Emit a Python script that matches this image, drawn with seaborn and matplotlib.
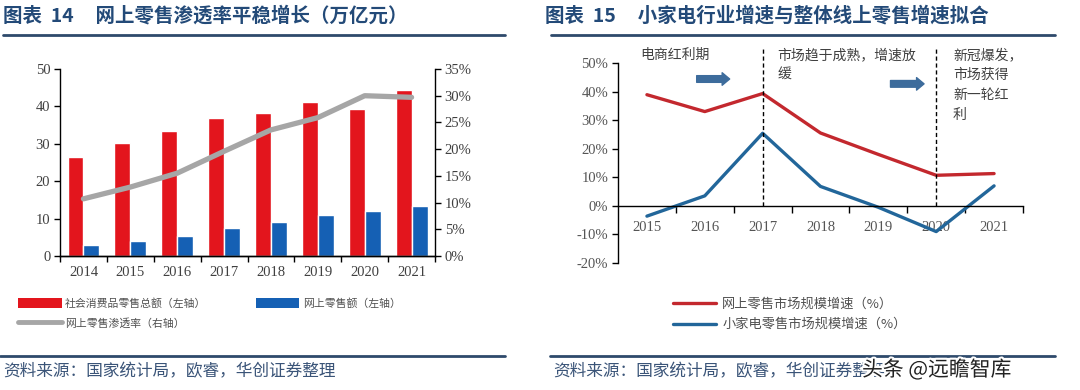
import numpy as np
import pandas as pd
import matplotlib
matplotlib.use("Agg")
import matplotlib.pyplot as plt
import seaborn as sns
from matplotlib.ticker import FixedLocator, FuncFormatter
from matplotlib.lines import Line2D
from matplotlib.patches import Patch
import matplotlib.patheffects as pe

# ---------------- data ----------------
years_left = ["2014", "2015", "2016", "2017", "2018", "2019", "2020", "2021"]
retail_total = [26.5, 30.3, 33.4, 36.8, 38.2, 41.3, 39.4, 44.3]      # 万亿元
online_retail = [3.0, 4.1, 5.4, 7.4, 9.2, 10.9, 11.9, 13.3]          # 万亿元
penetration = [10.7, 12.9, 15.5, 19.6, 23.6, 25.9, 30.0, 29.7]       # %

years_right = [2015, 2016, 2017, 2018, 2019, 2020, 2021]
online_growth = [38.9, 33.0, 39.3, 25.5, 18.0, 10.7, 11.3]           # %
appliance_growth = [-3.6, 3.5, 25.4, 6.8, -0.5, -9.0, 7.0]           # %

lab_total = "社会消费品零售总额（左轴）"
lab_online = "网上零售额（左轴）"
lab_pen = "网上零售渗透率（右轴）"
lab_g1 = "网上零售市场规模增速（%）"
lab_g2 = "小家电零售市场规模增速（%）"

RED = "#E3151D"
BLUE = "#1560B4"
GRAY = "#A6A6A6"
RED2 = "#C3282E"
BLUE2 = "#22669A"
TITLE_C = "#234A78"
RULE_C = "#2E4A6B"
TXT = "#404040"

sns.set_theme(style="ticks")
plt.rcParams["font.family"] = ["Noto Sans CJK SC", "DejaVu Sans"]
plt.rcParams["axes.unicode_minus"] = False
SERIF = ["Liberation Serif", "DejaVu Serif"]

W, H = 1080, 390
fig = plt.figure(figsize=(10.8, 3.9), dpi=100)

def fx(px):
    return px / W

def fy(py):
    return 1 - py / H

# ---------------- left chart ----------------
ax1 = fig.add_axes([fx(60), fy(256), fx(375), (256 - 69) / H])
df_l = pd.DataFrame({
    "year": years_left * 2,
    "value": retail_total + online_retail,
    "series": [lab_total] * len(years_left) + [lab_online] * len(years_left),
})
sns.barplot(data=df_l, x="year", y="value", hue="series", palette=[RED, BLUE],
            width=0.68, saturation=1, ax=ax1, legend=False, errorbar=None)
ax2 = ax1.twinx()
sns.pointplot(x=years_left, y=penetration, ax=ax2, color=GRAY, markers="",
              linewidth=3.8, errorbar=None)
ax1.set_xlim(-0.5, len(years_left) - 0.5)
ax1.set_ylim(0, 50)
ax2.set_ylim(0, 35)
ax1.set_yticks(np.arange(0, 51, 10))
ax2.set_yticks(np.arange(0, 36, 5))
ax2.yaxis.set_major_formatter(FuncFormatter(lambda v, p: f"{v:.0f}%"))
ax1.set_xlabel("")
ax1.set_ylabel("")
ax2.set_ylabel("")
ax1.xaxis.set_minor_locator(FixedLocator(np.arange(-0.5, len(years_left), 1.0)))
ax1.tick_params(axis="x", which="major", length=0, pad=7)
ax1.tick_params(axis="x", which="minor", length=4, width=1, color="black", direction="out")
ax1.tick_params(axis="y", length=4, width=1, color="black", direction="out", pad=3)
ax2.tick_params(axis="y", length=4, width=1, color="black", direction="out", pad=3)
for a in (ax1, ax2):
    a.spines["top"].set_visible(False)
    for s in ("left", "right", "bottom"):
        a.spines[s].set_color("black")
        a.spines[s].set_linewidth(1)
    for lab in a.get_xticklabels() + a.get_yticklabels():
        lab.set_fontfamily(SERIF)
        lab.set_fontsize(10.5)
        lab.set_color(TXT)
ax2.spines["left"].set_visible(False)
ax1.spines["right"].set_visible(False)

handles_l = [Patch(facecolor=RED, edgecolor="none"),
             Line2D([0], [0], color=GRAY, lw=3.5),
             Patch(facecolor=BLUE, edgecolor="none")]
labels_l = [lab_total, lab_pen, lab_online]
fig.legend(handles_l, labels_l, loc="upper left", bbox_to_anchor=(fx(14), fy(294)),
           ncol=2, frameon=False, fontsize=7.8, handlelength=4.0, handleheight=1.0,
           handletextpad=0.3, columnspacing=4.6, labelspacing=0.8, borderaxespad=0,
           labelcolor="#505050")

# ---------------- right chart ----------------
ax3 = fig.add_axes([fx(618), fy(263), fx(405), (263 - 63) / H])
df_r = pd.DataFrame({
    "year": years_right * 2,
    "growth": online_growth + appliance_growth,
    "series": [lab_g1] * len(years_right) + [lab_g2] * len(years_right),
})
sns.lineplot(data=df_r, x="year", y="growth", hue="series",
             palette={lab_g1: RED2, lab_g2: BLUE2}, linewidth=2.4, ax=ax3,
             legend=False, errorbar=None)
ax3.set_xlim(years_right[0] - 0.5, years_right[-1] + 0.5)
ax3.set_ylim(-20, 50)
ax3.set_yticks(np.arange(-20, 51, 10))
ax3.yaxis.set_major_formatter(FuncFormatter(lambda v, p: f"{v:.0f}%"))
ax3.set_xticks(years_right)
ax3.set_xticklabels([str(y) for y in years_right])
ax3.xaxis.set_minor_locator(FixedLocator(np.arange(years_right[0] + 0.5, years_right[-1] + 0.6, 1.0)))
ax3.spines["bottom"].set_position(("data", 0))
ax3.spines["top"].set_visible(False)
ax3.spines["right"].set_visible(False)
for s in ("left", "bottom"):
    ax3.spines[s].set_color("black")
    ax3.spines[s].set_linewidth(1)
ax3.set_xlabel("")
ax3.set_ylabel("")
ax3.tick_params(axis="x", which="major", length=0, pad=11)
ax3.tick_params(axis="x", which="minor", length=5, width=1, color="black", direction="out")
ax3.tick_params(axis="y", length=4, width=1, color="black", direction="out", pad=3)
for lab in ax3.get_xticklabels() + ax3.get_yticklabels():
    lab.set_fontfamily(SERIF)
    lab.set_fontsize(10.5)
    lab.set_color("#555555")

# phase separators
for yr in (2017, 2020):
    ax3.axvline(yr, ymin=20 / 70, ymax=75 / 70, color="black", lw=1,
                ls=(0, (3, 2)), clip_on=False)

ann_kw = dict(fontsize=10, color="#404040", va="top", ha="left", linespacing=1.55)
ax3.text(2014.88, 55.2, "电商红利期", **ann_kw)
ax3.text(2017.25, 55.2, "市场趋于成熟，增速放\n缓", **ann_kw)
ax3.text(2020.29, 55.2, "新冠爆发，\n市场获得\n新一轮红\n利", **ann_kw)
arrow_kw = dict(arrowstyle="simple,head_length=0.45,head_width=0.75,tail_width=0.4",
                color="#3D6C9C", shrinkA=0, shrinkB=0, mutation_scale=12)
ax3.annotate("", xy=(2016.43, 44.4), xytext=(2015.86, 44.4), arrowprops=arrow_kw,
             annotation_clip=False)
ax3.annotate("", xy=(2019.79, 42.7), xytext=(2019.21, 42.7), arrowprops=arrow_kw,
             annotation_clip=False)

handles_r = [Line2D([0], [0], color=RED2, lw=2.4), Line2D([0], [0], color=BLUE2, lw=2.4)]
fig.legend(handles_r, [lab_g1, lab_g2], loc="upper left", bbox_to_anchor=(fx(668), fy(292)),
           ncol=1, frameon=False, fontsize=9.5, handlelength=3.2, handletextpad=0.5,
           labelspacing=0.6, borderaxespad=0, labelcolor="#505050")

# ---------------- titles, rules, sources ----------------
fig.text(fx(3), fy(16), "图表  14     网上零售渗透率平稳增长（万亿元）", fontsize=14,
         fontweight="bold", color=TITLE_C, va="center", ha="left")
fig.text(fx(545), fy(16), "图表  15     小家电行业增速与整体线上零售增速拟合", fontsize=14,
         fontweight="bold", color=TITLE_C, va="center", ha="left")
for x0, x1 in ((3, 505), (551, 1055)):
    fig.add_artist(Line2D([fx(x0), fx(x1)], [fy(35), fy(35)], color=RULE_C, lw=2))
for x0, x1 in ((0, 505), (550, 1055)):
    fig.add_artist(Line2D([fx(x0), fx(x1)], [fy(356), fy(356)], color=RULE_C, lw=2))
src = "资料来源：国家统计局，欧睿，华创证券整理"
fig.text(fx(3), fy(372), src, fontsize=12, color="#3A5478", va="center", ha="left")
fig.text(fx(553), fy(372), src, fontsize=12, color="#3A5478", va="center", ha="left")
fig.text(fx(862), fy(370), "头条 @远瞻智库", fontsize=15, color="#222222", va="center",
         ha="left", path_effects=[pe.withStroke(linewidth=3, foreground="white")])

fig.savefig("out.png", dpi=100)
